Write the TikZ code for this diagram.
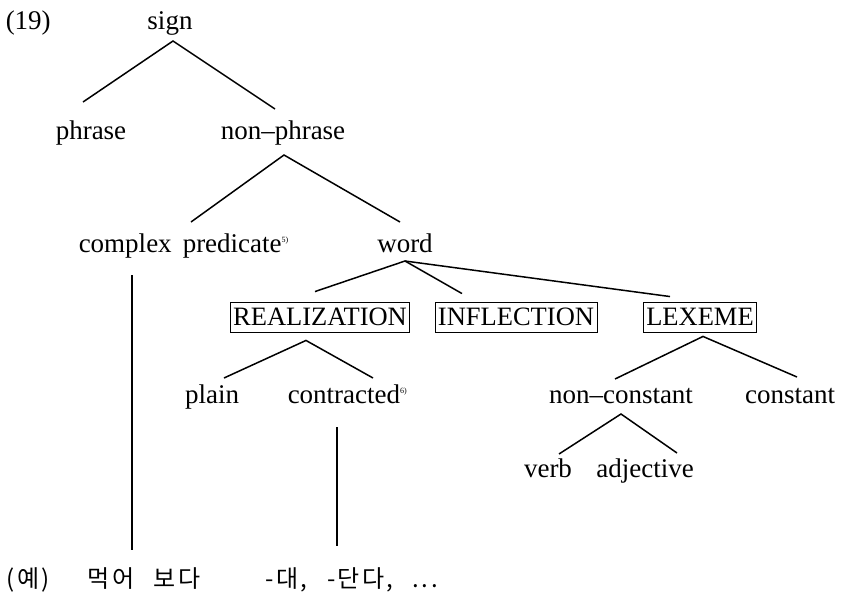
\documentclass[tikz,border=0pt]{standalone}
\usepackage{fontspec}
\setmainfont{Liberation Serif}
\newfontfamily\krfont[LetterSpace=10,WordSpace=2.5]{Noto Sans CJK KR}
\newcommand{\fnmark}[1]{\textsuperscript{\fontsize{8}{9}\selectfont #1}}
\begin{document}
\begin{tikzpicture}[x=1pt,y=-1pt,line width=1.5pt,
  lbl/.style={anchor=base,inner sep=0pt,font=\fontsize{27}{30}\selectfont},
  lblw/.style={lbl,anchor=base west},
  tbox/.style={draw,line width=0.9pt,anchor=center,inner xsep=3pt,inner ysep=0pt,
    minimum height=30pt,font=\fontsize{26.5}{30}\selectfont},
  kor/.style={anchor=base west,inner sep=0pt,font=\krfont\fontsize{24}{28}\selectfont}]
\useasboundingbox (0,0) rectangle (847,595);
% nodes
\node[lblw] (ex) at (5,29) {(19)};
\node[lbl] (sign) at (170,29) {sign};
\node[lbl] (phrase) at (91,139) {phrase};
\node[lbl] (nonphrase) at (283,139) {non–phrase};
\node[lblw] (complex) at (78,252) {complex};
\node[lblw] (pred) at (182,252) {predicate\fnmark{5)}};
\node[lbl] (word) at (405,252) {word};
\node[tbox] (real) at (320,317) {REALIZATION};
\node[tbox] (infl) at (516,317) {INFLECTION};
\node[tbox] (lex) at (700,317) {LEXEME};
\node[lbl] (plain) at (212,403) {plain};
\node[lblw] (contr) at (287,403) {contracted\fnmark{6)}};
\node[lbl] (noncon) at (621,403) {non–constant};
\node[lbl] (con) at (790,403) {constant};
\node[lbl] (verb) at (548,477) {verb};
\node[lbl] (adj) at (645,477) {adjective};
\node[kor] (ye) at (6,587) {(예)};
\node[kor] (mek) at (87,587) {먹어 보다};
\node[kor] (dae) at (265,587) {-대, -단다, ...};
% connectors
\draw ([shift={(-8,-37)}]phrase.base) -- ([shift={(3,12)}]sign.base) -- ([shift={(-8,-30)}]nonphrase.base);
\draw ([shift={(9,-30)}]pred.base west) -- ([shift={(1,16)}]nonphrase.base) -- ([shift={(-5,-30)}]word.base);
\draw ([shift={(-5,-10)}]real.north) -- ([shift={(0,9)}]word.base) -- ([shift={(-54,-8)}]infl.north);
\draw ([shift={(0,9)}]word.base) -- ([shift={(-30,-5)}]lex.north);
\draw ([shift={(12,-25)}]plain.base) -- ([shift={(-14,8)}]real.south) -- ([shift={(86,-25)}]contr.base west);
\draw ([shift={(-6,-24)}]noncon.base) -- ([shift={(3,4)}]lex.south) -- ([shift={(7,-26)}]con.base);
\draw ([shift={(11,-23)}]verb.base) -- ([shift={(0,11)}]noncon.base) -- ([shift={(32,-24)}]adj.base);
\draw ([shift={(54,23)}]complex.base west) -- ([shift={(45,-37)}]mek.base west);
\draw ([shift={(50,24)}]contr.base west) -- ([shift={(72,-41)}]dae.base west);
\end{tikzpicture}
\end{document}
